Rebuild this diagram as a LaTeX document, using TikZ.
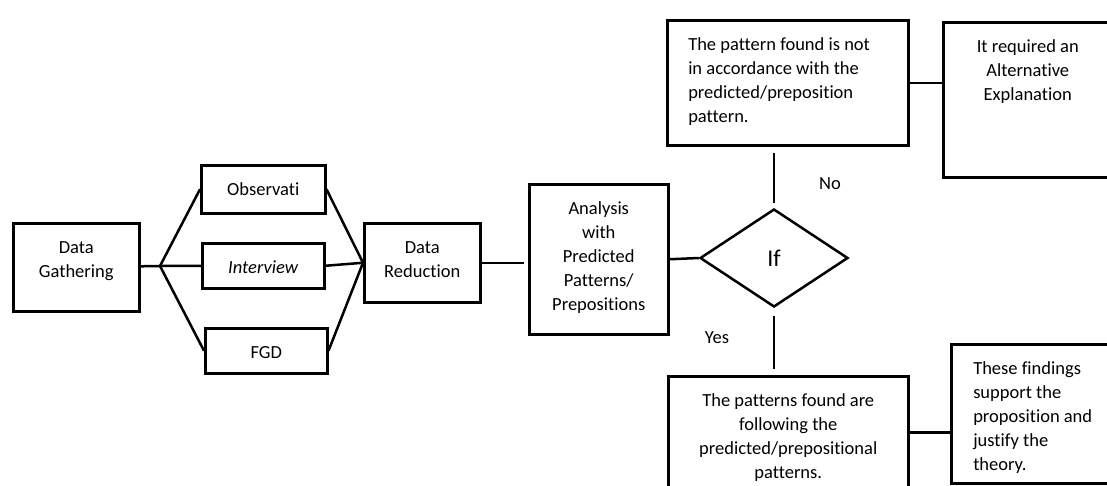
\documentclass[tikz,border=0pt]{standalone}
\usepackage{fontspec}
\setmainfont{Carlito}[Ligatures=NoCommon]
\usepackage{tikz}
\usetikzlibrary{shapes.geometric}

% box text: width, height, alignment, lines
\newcommand{\boxtext}[4]{\parbox[c][#2][t]{#1}{#3\rule{0pt}{30pt}#4}}

\begin{document}
\begin{tikzpicture}[x=1pt,y=-1pt,line width=2.5pt,
                    every node/.style={font=\fontsize{18.5}{24}\selectfont}]
\tikzstyle{block}=[draw=black,inner sep=0pt,anchor=north west]
\tikzstyle{decision}=[draw=black,diamond,inner sep=0pt,minimum width=148pt,
                      minimum height=98pt,font=\fontsize{24}{28}\selectfont]
\tikzstyle{answer}=[inner sep=0pt]
\useasboundingbox (0,0) rectangle (1107,485);
\clip (0,0) rectangle (1107,485);
\node[block] (gather) at (12,222) {\boxtext{126pt}{88pt}{\centering}{Data\\Gathering}};
\node[block] (obs) at (200,164) {\boxtext{124pt}{48pt}{\centering}{Observati}};
\node[block] (interview) at (201,242) {\boxtext{122pt}{45pt}{\centering}{\textit{Interview}}};
\node[block] (fgd) at (204,327) {\boxtext{122pt}{45pt}{\centering}{FGD}};
\node[block] (reduce) at (363,222) {\boxtext{116pt}{79pt}{\centering}{Data\\Reduction}};
\node[block] (analysis) at (528,183) {\boxtext{139pt}{150pt}{\centering}{Analysis\\with\\Predicted\\Patterns/\\Prepositions}};
\node[decision] (if) at (774,258) {If};
\node[block] (notfound) at (666,19) {\boxtext{241pt}{125pt}{\raggedright\leftskip=21pt}{The pattern found is not\\in accordance with the\\predicted/preposition\\pattern.}};
\node[block] (altexp) at (942,21) {\boxtext{169pt}{155pt}{\centering}{It required an\\Alternative\\Explanation}};
\node[block] (follow) at (667,375) {\boxtext{240pt}{112pt}{\centering}{The patterns found are\\following the\\predicted/prepositional\\patterns.}};
\node[block] (support) at (950,343) {\boxtext{170pt}{139pt}{\raggedright\leftskip=22pt}{These findings\\support the\\proposition and\\justify the\\theory.}};

\coordinate (split) at (160,266);
\path (gather) edge (split)
      (split) edge (obs.west)
              edge (interview.west)
              edge (fgd.west)
      (obs.east) edge (reduce.west)
      (interview.east) edge (reduce.west)
      (fgd.east) edge (reduce.west)
      (analysis.east) edge (if.west);
\draw[shorten >=4pt] (reduce.east) -- (reduce.east -| analysis.west);
\draw[shorten <=5pt,shorten >=6pt] (if.north) -- (if.north |- notfound.south)
      node[answer,pos=0.4,xshift=56pt] (no) {No};
\draw[shorten <=8pt,shorten >=6pt] (if.south) -- (if.south |- follow.north)
      node[answer,pos=0.44,xshift=-57pt] (yes) {Yes};
\draw (notfound.east) -- (notfound.east -| altexp.west);
\draw (follow.east) -- (follow.east -| support.west);
\end{tikzpicture}
\end{document}
